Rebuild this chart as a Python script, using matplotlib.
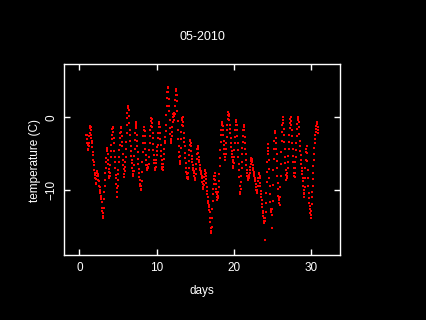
import numpy as np
import matplotlib
matplotlib.use("Agg")
import matplotlib.pyplot as plt

# hourly temperature readings, one row per day, starting at day 0.9
temps = [
    [-2.5, -2.4, -3.0, -3.6, -3.8, -4.5, -4.3, -3.9, -3.5, -2.6, -2.2, -1.5, -1.2, -1.4, -1.8, -2.5, -2.8, -3.3, -3.6, -4.1, -4.8, -5.2, -5.9, -6.2],
    [-6.5, -7.3, -7.6, -7.9, -8.4, -9.0, -9.2, -8.5, -8.0, -7.4, -7.6, -7.8, -8.1, -8.6, -8.8, -9.4, -9.5, -9.6, -10.0, -10.3, -10.4, -10.9, -10.8, -11.2],
    [-11.6, -12.4, -12.8, -13.5, -13.8, -13.2, -12.5, -11.2, -10.2, -9.5, -8.6, -7.6, -7.0, -6.1, -5.6, -4.6, -4.2, -4.5, -5.0, -5.8, -6.4, -7.1, -7.5, -8.0],
    [-8.3, -8.0, -7.6, -6.5, -5.5, -4.6, -3.8, -3.0, -2.4, -1.6, -1.3, -1.5, -2.0, -2.9, -3.5, -4.6, -5.4, -6.2, -7.0, -7.9, -8.4, -9.1, -9.7, -10.2],
    [-10.9, -9.4, -8.6, -7.8, -7.2, -6.1, -5.4, -4.5, -3.8, -2.8, -2.1, -1.5, -1.3, -2.0, -2.6, -3.4, -4.0, -5.0, -5.8, -6.5, -7.1, -7.8, -8.2, -7.4],
    [-6.8, -6.1, -5.5, -4.4, -3.4, -2.1, -1.0, -0.1, 0.6, 1.2, 1.6, 1.4, 1.0, 0.1, -0.8, -1.7, -2.4, -3.3, -4.0, -4.7, -5.3, -5.9, -6.3, -6.9],
    [-7.4, -7.8, -8.1, -7.4, -6.5, -5.3, -4.3, -3.1, -2.2, -1.2, -0.6, -0.9, -1.5, -2.4, -3.2, -4.0, -4.8, -5.7, -6.4, -7.1, -7.6, -8.2, -8.6, -9.1],
    [-9.5, -9.9, -10.0, -9.4, -8.7, -7.5, -6.2, -4.8, -3.6, -2.6, -1.8, -1.4, -1.3, -1.9, -2.6, -3.6, -4.4, -5.2, -5.8, -6.6, -7.2, -6.9, -6.6, -6.8],
    [-7.0, -6.8, -6.4, -5.5, -4.5, -3.5, -2.6, -1.8, -1.2, -0.5, -0.1, -0.3, -0.8, -1.4, -2.1, -2.9, -3.7, -4.5, -5.2, -5.8, -6.3, -6.9, -7.2, -7.0],
    [-6.8, -6.3, -5.9, -5.2, -4.6, -4.1, -3.8, -2.9, -2.2, -1.3, -0.6, -0.9, -1.4, -2.2, -3.0, -3.8, -4.6, -5.3, -5.8, -6.4, -6.8, -7.1, -7.2, -6.8],
    [-6.4, -5.7, -5.0, -4.3, -3.6, -3.2, -2.7, -1.9, -1.0, 0.3, 1.5, 2.6, 3.4, 4.0, 4.2, 3.4, 2.5, 1.6, 0.8, -0.4, -1.5, -2.3, -3.0, -3.3],
    [-3.5, -3.1, -2.6, -2.0, -1.4, -0.7, 0.0, 0.4, 0.6, 0.1, -0.4, 0.5, 1.6, 2.4, 3.0, 3.6, 3.9, 3.1, 2.2, 0.9, -0.5, -1.8, -3.0, -3.9],
    [-4.8, -5.5, -6.0, -6.4, -6.3, -5.3, -4.2, -3.0, -2.0, -1.1, -0.4, -0.1, 0.0, -0.6, -1.2, -2.1, -2.8, -3.4, -4.0, -4.9, -5.6, -6.3, -7.0, -7.5],
    [-7.8, -8.2, -8.4, -8.5, -8.2, -7.6, -6.9, -6.0, -5.2, -4.5, -3.8, -3.3, -3.1, -3.5, -4.0, -4.7, -5.3, -5.7, -6.1, -6.6, -7.0, -7.2, -7.4, -7.7],
    [-8.0, -8.3, -8.6, -8.3, -7.8, -7.1, -6.4, -5.7, -5.0, -4.4, -4.0, -4.1, -4.3, -4.9, -5.4, -5.8, -6.2, -6.6, -6.9, -7.2, -7.4, -7.6, -7.8, -8.1],
    [-8.4, -8.9, -9.2, -9.6, -9.8, -9.3, -8.8, -8.2, -7.8, -7.4, -7.2, -7.6, -8.0, -8.5, -9.0, -9.6, -10.1, -10.6, -11.0, -11.5, -11.8, -12.1, -12.3, -12.7],
    [-13.0, -13.8, -14.4, -15.2, -15.9, -15.6, -15.0, -13.8, -12.6, -11.5, -10.5, -9.8, -9.2, -8.5, -8.0, -7.7, -7.6, -8.0, -8.6, -9.2, -9.8, -10.3, -10.6, -11.0],
    [-11.3, -11.1, -10.8, -10.3, -9.6, -8.7, -7.8, -6.7, -5.6, -4.5, -3.4, -2.5, -1.8, -1.1, -0.6, -0.8, -1.2, -1.8, -2.5, -3.2, -3.8, -4.4, -5.0, -5.5],
    [-5.9, -5.5, -5.0, -4.3, -3.6, -2.7, -1.8, -1.0, -0.2, 0.3, 0.7, 0.5, 0.2, -0.4, -1.0, -1.6, -2.2, -2.9, -3.5, -4.1, -4.6, -5.0, -5.4, -5.8],
    [-6.2, -6.7, -7.0, -6.3, -5.4, -4.5, -3.6, -2.7, -1.8, -1.0, -0.4, -0.6, -1.0, -1.8, -2.6, -3.6, -4.5, -5.5, -6.4, -7.3, -8.2, -9.4, -10.6, -10.2],
    [-9.8, -8.9, -8.0, -7.0, -6.1, -5.1, -4.2, -3.4, -2.6, -1.8, -1.1, -1.3, -1.8, -2.7, -3.5, -4.3, -5.1, -5.9, -6.6, -7.2, -7.7, -8.0, -8.3, -8.5],
    [-8.6, -8.4, -8.2, -7.9, -7.6, -7.2, -6.8, -6.4, -6.0, -5.8, -5.6, -5.7, -5.9, -6.2, -6.6, -6.9, -7.2, -7.5, -7.8, -8.0, -8.3, -8.5, -8.8, -9.2],
    [-9.6, -10.0, -10.4, -10.3, -10.0, -9.4, -8.8, -8.3, -7.8, -7.6, -7.6, -8.0, -8.4, -9.0, -9.5, -10.1, -10.6, -11.0, -11.4, -11.9, -12.3, -12.8, -13.2, -13.5],
    [-13.8, -14.2, -14.5, -14.3, -16.8, -13.8, -13.0, -11.8, -10.4, -8.9, -7.5, -6.2, -5.0, -4.2, -3.7, -4.6, -5.8, -7.1, -8.4, -9.5, -10.6, -11.6, -12.6, -12.9],
    [-13.0, -13.4, -15.2, -12.6, -11.5, -9.3, -7.2, -5.7, -4.4, -3.2, -2.2, -1.9, -2.0, -2.8, -3.6, -4.3, -5.0, -6.0, -7.0, -8.0, -9.0, -9.9, -10.8, -11.1],
    [-11.3, -11.7, -12.0, -10.9, -9.6, -8.0, -6.4, -4.8, -3.2, -2.0, -1.0, -0.4, 0.0, -0.8, -1.6, -2.5, -3.4, -4.4, -5.4, -6.3, -7.2, -7.9, -8.6, -8.6],
    [-8.4, -8.0, -7.6, -6.9, -6.2, -5.3, -4.4, -3.4, -2.4, -1.5, -0.8, -0.3, 0.0, -0.5, -1.0, -1.8, -2.6, -3.5, -4.4, -5.3, -6.2, -6.9, -7.6, -8.0],
    [-8.2, -7.6, -7.0, -6.2, -5.4, -4.5, -3.6, -2.6, -1.6, -0.9, -0.4, -0.1, 0.0, -0.7, -1.4, -2.3, -3.2, -3.9, -4.6, -5.2, -5.8, -6.4, -7.0, -7.4],
    [-7.8, -8.3, -8.8, -9.4, -10.0, -10.5, -11.0, -10.4, -9.6, -8.3, -7.0, -5.8, -4.8, -4.3, -4.0, -4.9, -6.0, -7.2, -8.4, -9.4, -10.4, -11.1, -11.8, -12.2],
    [-12.6, -13.2, -13.8, -13.4, -12.8, -11.9, -11.0, -10.2, -9.5, -8.5, -7.6, -6.7, -5.8, -5.0, -4.2, -3.6, -3.0, -2.5, -2.0, -1.6, -1.2, -0.9, -0.6, -0.8, -1.4, -1.8, -2.2],
]
start_day = 0.9
x_ticks = [0, 10, 20, 30]
y_ticks = [-10, 0]

values = np.concatenate([np.array(row) for row in temps])
days = start_day + np.arange(len(values)) / 24.0

plt.rcParams['font.family'] = ['Liberation Sans', 'DejaVu Sans']
fg = "white"

fig = plt.figure(figsize=(4.26, 3.2), dpi=100, facecolor="black")
ax = fig.add_axes([64 / 426, 1 - 255 / 320, 276 / 426, 191 / 320])
ax.set_facecolor("black")

ax.plot(days, values, linestyle="none", marker="s", markersize=2.1,
        markeredgewidth=0, color="#ff0000")

ax.set_xlim(-2.0, 33.8)
ax.set_ylim(-18.9, 7.3)
ax.set_xticks(x_ticks)
ax.set_yticks(y_ticks)
ax.set_yticklabels([str(v).replace("-", "\u2212") for v in y_ticks],
                   rotation=90, va="center")

for s in ax.spines.values():
    s.set_color(fg)
    s.set_linewidth(1.0)
ax.tick_params(colors=fg, direction="in", length=4, width=1.0,
               top=True, right=True, labelsize=8.5, pad=5)

fig.text(202 / 426, 1 - 37 / 320, "05-2010", color=fg, fontsize=9,
         ha="center", va="center")
fig.text(202 / 426, 1 - 291 / 320, "days", color=fg, fontsize=8.5,
         ha="center", va="center")
fig.text(35 / 426, 1 - 160 / 320, "temperature (C)", color=fg, fontsize=8.5,
         ha="center", va="center", rotation=90)

fig.savefig("out.png", dpi=100, facecolor="black")
